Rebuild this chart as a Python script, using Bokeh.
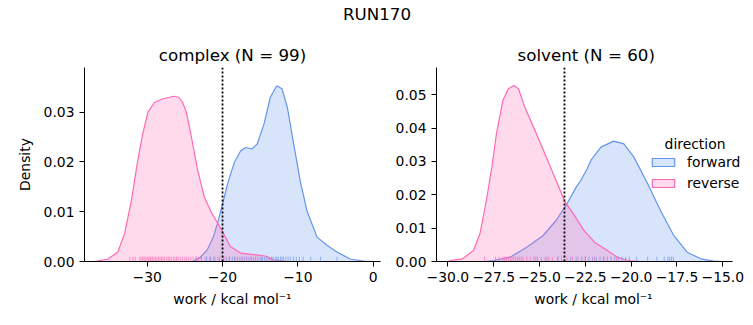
from bokeh.plotting import figure
from bokeh.layouts import column, row
from bokeh.models import (Span, Legend, LegendItem, Label, FixedTicker, Range1d)
from bokeh.embed import file_html
from bokeh.resources import INLINE

FONT = "DejaVu Sans"
BLUE = "#6495ED"
PINK = "#FF69B4"

# ---------------- data ----------------
suptitle = "RUN170"
directions = ["forward", "reverse"]

# complex: KDE curves
cx_fwd_x = [-24.0, -23.0, -22.0, -21.2, -20.6, -20.0, -19.4, -18.9, -18.4, -17.6, -16.95, -16.1,
            -15.4, -14.5, -13.65, -12.8, -12.1, -11.4, -10.55, -9.7, -8.8, -7.45, -6.1, -4.8,
            -3.05, -1.3, 0.0]
cx_fwd_y = [0.0000, 0.0008, 0.0024, 0.0050, 0.0080, 0.0115, 0.0152, 0.0177, 0.0200, 0.0222, 0.0229, 0.0226,
            0.0236, 0.0276, 0.0330, 0.0353, 0.0347, 0.0310, 0.0236, 0.0163, 0.0102, 0.0049, 0.0032, 0.0019,
            0.0005, 0.0001, 0.0000]
cx_rev_x = [-37.0, -35.2, -33.9, -33.0, -32.1, -31.25, -30.6, -29.9, -29.0, -28.1, -27.3, -26.5,
            -25.8, -25.3, -24.8, -24.2, -23.3, -22.4, -21.5, -20.3, -18.95, -17.6, -15.9, -14.3,
            -13.2, -11.4]
cx_rev_y = [0.0000, 0.0005, 0.0019, 0.0056, 0.0122, 0.0203, 0.0256, 0.0300, 0.0320, 0.0326, 0.0329, 0.0332,
            0.0330, 0.0320, 0.0300, 0.0256, 0.0183, 0.0129, 0.0099, 0.0068, 0.0030, 0.0017, 0.0014, 0.0011,
            0.0003, 0.0000]

# solvent: KDE curves
sv_fwd_x = [-28.0, -27.5, -26.6, -25.7, -24.8, -24.1, -23.5, -23.0, -22.75, -22.4, -22.2, -21.65,
            -20.95, -20.4, -19.85, -19.1, -18.4, -17.7, -16.95, -16.2, -15.5, -15.0]
sv_fwd_y = [0.0000, 0.0003, 0.0013, 0.0043, 0.0078, 0.0123, 0.0173, 0.0223, 0.0243, 0.0278, 0.0303, 0.0343,
            0.0361, 0.0353, 0.0313, 0.0233, 0.0153, 0.0080, 0.0028, 0.0008, 0.0001, 0.0000]
sv_rev_x = [-29.9, -29.2, -28.6, -28.25, -27.9, -27.6, -27.35, -27.0, -26.7, -26.4, -26.15, -25.8,
            -25.3, -24.8, -24.25, -23.6, -23.15, -22.6, -22.0, -21.3, -20.75, -20.2, -19.5]
sv_rev_y = [0.0003, 0.0008, 0.0033, 0.0083, 0.0183, 0.0283, 0.0383, 0.0483, 0.0518, 0.0528, 0.0518, 0.0463,
            0.0400, 0.0335, 0.0263, 0.0178, 0.0143, 0.0095, 0.0058, 0.0033, 0.0013, 0.0003, 0.0000]

# rug samples
cx_fwd_rug = [-23.5, -22.8, -22.1, -21.6, -21.0, -20.4, -19.9, -19.5, -19.1, -18.7, -18.4, -18.0,
              -17.7, -17.4, -17.1, -16.8, -16.5, -16.2, -15.9, -15.6, -15.3, -15.0, -14.7, -14.4,
              -14.1, -13.8, -13.5, -13.3, -13.0, -12.8, -12.6, -12.3, -12.1, -11.9, -11.6, -11.3,
              -11.0, -10.6, -10.2, -9.8, -9.3, -8.3, -7.0, -4.8]
cx_rev_rug = [-32.3, -31.9, -31.6, -31.0, -30.8, -30.6, -30.4, -30.2, -30.0, -29.8, -29.6, -29.5,
              -29.3, -29.1, -28.9, -28.7, -28.5, -28.3, -28.1, -27.9, -27.7, -27.4, -27.2, -27.0,
              -26.8, -26.5, -26.3, -26.1, -25.9, -25.6, -25.3, -25.0, -24.8, -24.5, -24.2, -23.9,
              -23.5, -23.2, -22.8, -22.3, -21.7, -21.2, -20.6, -19.8, -19.1, -18.3, -17.4, -16.8,
              -16.2, -15.6, -14.8]
sv_fwd_rug = [-25.2, -24.6, -24.0, -23.3, -23.0, -22.7, -22.5, -22.3, -22.1, -21.9, -21.7, -21.5,
              -21.3, -21.1, -20.9, -20.7, -20.5, -20.3, -20.1, -19.7, -19.1, -18.6, -18.2, -18.0,
              -17.9, -17.8, -17.7]
sv_rev_rug = [-28.0, -27.4, -27.2, -27.0, -26.9, -26.8, -26.7, -26.6, -26.5, -26.4, -26.3, -26.2,
              -26.1, -26.0, -25.9, -25.7, -25.5, -25.3, -25.1, -24.9, -24.7, -24.5, -24.3, -24.0,
              -23.8, -23.5, -23.2, -22.9, -22.5, -22.0, -21.5, -20.8]

cx_cut = -20.0
sv_cut = -23.64

cx_xticks = [-30, -20, -10, 0]
cx_xlabels = ["\u221230", "\u221220", "\u221210", "0"]
cx_yticks = [0.0, 0.01, 0.02, 0.03]
cx_ylabels = ["0.00", "0.01", "0.02", "0.03"]
sv_xticks = [-30.0, -27.5, -25.0, -22.5, -20.0, -17.5, -15.0]
sv_xlabels = ["\u221230.0", "\u221227.5", "\u221225.0", "\u221222.5", "\u221220.0", "\u221217.5", "\u221215.0"]
sv_yticks = [0.0, 0.01, 0.02, 0.03, 0.04, 0.05]
sv_ylabels = ["0.00", "0.01", "0.02", "0.03", "0.04", "0.05"]

xlabel = "work / kcal mol\u207b\u00b9"
ylabel = "Density"


def make_panel(width, bl, br, xr, xbounds, yr, xticks, xlabels, yticks, ylabels, title,
               title_align, title_offset, curves, rugs, cut, show_ylabel):
    p = figure(width=width, height=295, x_range=Range1d(*xr), y_range=Range1d(*yr),
               toolbar_location=None, output_backend="svg",
               min_border_left=bl, min_border_right=br, min_border_top=37,
               min_border_bottom=64, title=title)
    p.outline_line_color = None
    p.grid.visible = False
    p.background_fill_color = "white"
    p.border_fill_color = "white"
    p.title.text_font = FONT
    p.title.text_font_size = "16.7px"
    p.title.text_font_style = "normal"
    p.title.text_color = "black"
    p.title.align = title_align
    p.title.offset = title_offset
    p.title.standoff = 6
    for ax, ticks, labels in ((p.xaxis[0], xticks, xlabels), (p.yaxis[0], yticks, ylabels)):
        ax.ticker = FixedTicker(ticks=ticks)
        ax.major_label_overrides = {t: l for t, l in zip(ticks, labels)}
        ax.major_label_text_font = FONT
        ax.major_label_text_font_size = "13.9px"
        ax.major_label_text_color = "black"
        ax.minor_tick_line_color = None
        ax.major_tick_out = 5
        ax.major_tick_in = 0
        ax.major_label_standoff = 5
        ax.axis_line_color = "black"
        ax.major_tick_line_color = "black"
        ax.axis_label_text_font = FONT
        ax.axis_label_text_font_size = "13.9px"
        ax.axis_label_text_font_style = "normal"
        ax.axis_label_text_color = "black"
    p.xaxis.bounds = xbounds
    p.xaxis.axis_label = xlabel
    p.xaxis.axis_label_standoff = 6
    if show_ylabel:
        p.yaxis.axis_label = ylabel
        p.yaxis.axis_label_standoff = 8

    span_y = yr[1] - yr[0]
    rug_h = 0.025 * span_y
    areas = []
    for (xs, ys), color in zip(curves, (BLUE, PINK)):
        px = list(xs) + [xs[-1], xs[0]]
        py = list(ys) + [0, 0]
        areas.append(p.patch(px, py, fill_color=color, fill_alpha=0.25,
                             line_color=color, line_width=1.2))
    for r, color in zip(rugs, (BLUE, PINK)):
        p.segment(x0=r, y0=[0] * len(r), x1=r, y1=[rug_h] * len(r),
                  line_color=color, line_alpha=0.65, line_width=1)
    p.add_layout(Span(location=cut, dimension="height", line_color="black",
                      line_dash="2 2", line_width=1.8))
    return p, areas


p1, _ = make_panel(391, 84, 11, (-38.32, 0.97), (-38.32, 0.97), (0, 0.03898),
                   cx_xticks, cx_xlabels, cx_yticks, cx_ylabels, "complex (N = 99)",
                   "center", 0,
                   [(cx_fwd_x, cx_fwd_y), (cx_rev_x, cx_rev_y)], [cx_fwd_rug, cx_rev_rug],
                   cx_cut, True)
p2, areas2 = make_panel(362, 45, 3, (-30.62, -13.49), (-30.62, -14.47), (0, 0.05819),
                        sv_xticks, sv_xlabels, sv_yticks, sv_ylabels, "solvent (N = 60)",
                        "left", 81,
                        [(sv_fwd_x, sv_fwd_y), (sv_rev_x, sv_rev_y)], [sv_fwd_rug, sv_rev_rug],
                        sv_cut, False)

legend = Legend(items=[LegendItem(label=d, renderers=[r]) for d, r in zip(directions, areas2)],
                location=(213, 68), glyph_width=28, glyph_height=10, label_standoff=10,
                spacing=1, padding=0, margin=0, border_line_color=None,
                background_fill_alpha=0, label_text_font=FONT, label_text_font_size="13.9px",
                label_text_color="black", label_height=20)
p2.add_layout(legend)
p2.add_layout(Label(x=258.5, y=118, x_units="screen", y_units="screen", text="direction",
                    text_align="center", text_baseline="alphabetic", text_font=FONT,
                    text_font_size="13.9px", text_color="black"))

# super title
pt = figure(width=753, height=30, x_range=Range1d(0, 753), y_range=Range1d(0, 30),
            toolbar_location=None, output_backend="svg", x_axis_type=None, y_axis_type=None,
            min_border=0)
pt.outline_line_color = None
pt.grid.visible = False
pt.add_layout(Label(x=376.5, y=17, text=suptitle, text_align="center", text_baseline="middle",
                    text_font=FONT, text_font_size="16.7px", text_color="black"))

layout = column(pt, row(p1, p2))
open("out.html", "w").write(file_html(layout, INLINE))
